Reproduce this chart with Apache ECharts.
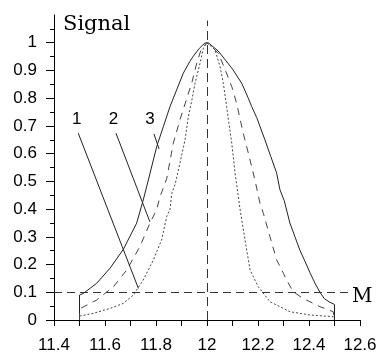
<!DOCTYPE html>
<html>
<head>
<meta charset="utf-8">
<script src="https://cdn.jsdelivr.net/npm/echarts@6/dist/echarts.min.js"></script>
<style>
  html, body { margin: 0; padding: 0; background: #fff; }
  #chart { width: 380px; height: 354px; }
</style>
</head>
<body>
<div id="chart"></div>
<script>
// Peak profiles around M = 12 (x: mass, y: normalised signal)
const curve1 = [
  [11.5, 0], [11.5, 0.014], [11.554, 0.024], [11.62, 0.042], [11.672, 0.06], [11.711, 0.09],
  [11.75, 0.144], [11.79, 0.217], [11.822, 0.289], [11.842, 0.373], [11.855, 0.40],
  [11.862, 0.457], [11.875, 0.49], [11.894, 0.566], [11.914, 0.65], [11.927, 0.734],
  [11.94, 0.79], [11.953, 0.854], [11.973, 0.927], [11.986, 0.981], [12.0, 1.0],
  [12.031, 0.975], [12.051, 0.914], [12.064, 0.854], [12.077, 0.77], [12.084, 0.722],
  [12.097, 0.638], [12.11, 0.53], [12.123, 0.445], [12.13, 0.397], [12.149, 0.289],
  [12.169, 0.18], [12.201, 0.12], [12.247, 0.066], [12.325, 0.03], [12.404, 0.018],
  [12.495, 0.012], [12.5, 0.012], [12.5, 0]
];
const curve2 = [
  [11.5, 0], [11.5, 0.04], [11.567, 0.072], [11.633, 0.12], [11.685, 0.18], [11.737, 0.265],
  [11.776, 0.349], [11.802, 0.397], [11.816, 0.445], [11.842, 0.51], [11.868, 0.638],
  [11.894, 0.722], [11.914, 0.78], [11.94, 0.854], [11.96, 0.927], [11.979, 0.981],
  [12.0, 1.0], [12.044, 0.963], [12.071, 0.903], [12.097, 0.842], [12.116, 0.782],
  [12.142, 0.674], [12.162, 0.602], [12.188, 0.505], [12.208, 0.42], [12.221, 0.385],
  [12.247, 0.3], [12.273, 0.217], [12.3, 0.168], [12.312, 0.144], [12.338, 0.102],
  [12.365, 0.085], [12.39, 0.072], [12.43, 0.054], [12.443, 0.048], [12.495, 0.03],
  [12.5, 0.03], [12.5, 0]
];
const curve3 = [
  [11.5, 0], [11.5, 0.09], [11.515, 0.096], [11.567, 0.132], [11.62, 0.187], [11.672, 0.255],
  [11.724, 0.349], [11.75, 0.433], [11.77, 0.505], [11.803, 0.626], [11.829, 0.698],
  [11.855, 0.77], [11.881, 0.83], [11.907, 0.89], [11.933, 0.933], [11.946, 0.951],
  [11.97, 0.98], [11.992, 0.999], [12.005, 1.0], [12.044, 0.97], [12.07, 0.94],
  [12.1, 0.905], [12.136, 0.854], [12.162, 0.80], [12.175, 0.77], [12.195, 0.73],
  [12.227, 0.65], [12.25, 0.59], [12.273, 0.53], [12.286, 0.47], [12.303, 0.43],
  [12.325, 0.35], [12.345, 0.30], [12.365, 0.25], [12.385, 0.21], [12.404, 0.17],
  [12.425, 0.13], [12.443, 0.10], [12.46, 0.077], [12.48, 0.065], [12.5, 0.056], [12.5, 0]
];

// Reference lines: threshold level and nominal mass
const thresholdLevel = 0.1;
const thresholdEnd = 12.56;
const nominalMass = 12.0;
const nominalTop = 1.08;

// Curve numbers with leader lines (start at the number, end on the curve)
const curveNames = ['1', '2', '3'];
const namePositions = [[11.489, 0.722], [11.633, 0.722], [11.776, 0.722]];
const leaderLines = [
  [[11.495, 0.674], [11.731, 0.114]],
  [[11.643, 0.674], [11.776, 0.354]],
  [[11.792, 0.671], [11.812, 0.617]]
];

const yTicks = [0, 0.1, 0.2, 0.3, 0.4, 0.5, 0.6, 0.7, 0.8, 0.9, 1];

const chart = echarts.init(document.getElementById('chart'), null, { renderer: 'canvas' });

const tickFont = { fontFamily: 'Liberation Sans', fontSize: 17, color: '#000' };

chart.setOption({
  animation: false,
  backgroundColor: '#fff',
  grid: { left: 54, right: 20, top: 15, bottom: 34, containLabel: false },
  xAxis: {
    type: 'value', min: 11.4, max: 12.6, interval: 0.2,
    axisLine: { lineStyle: { color: '#000', width: 1 } },
    axisTick: { show: true, length: 6, lineStyle: { color: '#000' } },
    minorTick: { show: true, splitNumber: 2, length: 6, lineStyle: { color: '#000' } },
    splitLine: { show: false },
    axisLabel: Object.assign({ margin: 17, formatter: v => String(+v.toFixed(1)) }, tickFont)
  },
  yAxis: {
    type: 'value', min: 0, max: 1.1, interval: 0.1,
    axisLine: { show: true, lineStyle: { color: '#000', width: 1 } },
    axisTick: { show: true, length: 8, customValues: yTicks, lineStyle: { color: '#000' } },
    minorTick: { show: true, splitNumber: 2, length: 4, lineStyle: { color: '#000' } },
    splitLine: { show: false },
    axisLabel: Object.assign({ margin: 17, customValues: yTicks, formatter: v => String(+v.toFixed(1)) }, tickFont)
  },
  series: [
    {
      type: 'line', data: curve3, symbol: 'none', clip: false,
      lineStyle: { color: '#222', width: 1 }
    },
    {
      type: 'line', data: curve2, symbol: 'none', clip: false,
      lineStyle: { color: '#444', width: 1, type: [7, 6] }
    },
    {
      type: 'line', data: curve1, symbol: 'none', clip: false,
      lineStyle: { color: '#444', width: 1, type: [2, 2] }
    },
    {
      // reference lines, leader lines and curve numbers
      type: 'line', data: [], symbol: 'none',
      markLine: {
        silent: true, symbol: 'none', animation: false,
        label: { show: false },
        data: [
          [{ coord: [11.4, thresholdLevel], lineStyle: { color: '#333', width: 1, type: [8, 5] } },
           { coord: [thresholdEnd, thresholdLevel] }],
          [{ coord: [nominalMass, 0], lineStyle: { color: '#333', width: 1, type: [9, 5] } },
           { coord: [nominalMass, nominalTop] }]
        ].concat(leaderLines.map(seg => [
          { coord: seg[0], lineStyle: { color: '#222', width: 1, type: 'solid' } },
          { coord: seg[1] }
        ]))
      },
      markPoint: {
        silent: true, symbol: 'circle', symbolSize: 0, animation: false,
        label: {
          show: true, position: 'inside', color: '#000',
          fontFamily: 'Liberation Sans', fontSize: 17,
          formatter: p => p.name
        },
        data: curveNames.map((n, i) => ({ name: n, coord: namePositions[i] }))
      }
    }
  ],
  graphic: [
    {
      type: 'text', left: 63, top: 14,
      style: { text: 'Signal', fontFamily: 'DejaVu Serif', fontSize: 21, fill: '#000' }
    },
    {
      type: 'text', left: 352, top: 287,
      style: { text: 'M', fontFamily: 'DejaVu Serif', fontSize: 20, fill: '#000' }
    }
  ]
});
</script>
</body>
</html>
